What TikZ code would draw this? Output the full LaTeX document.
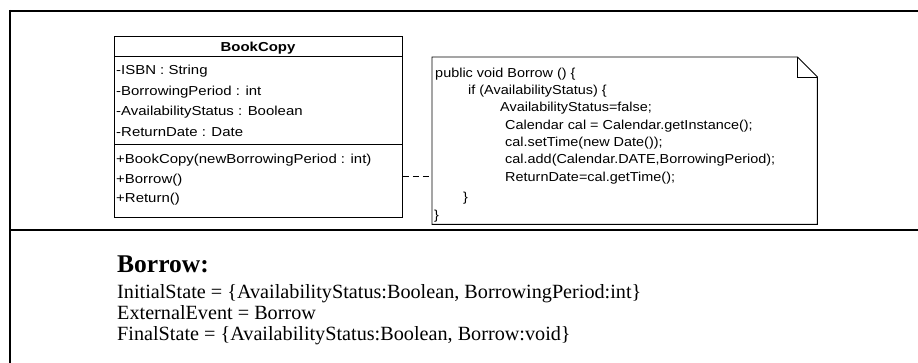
\documentclass[tikz,border=0pt]{standalone}
\usepackage{fontspec}
\setmainfont{Liberation Serif}
\setsansfont{Liberation Sans}

\begin{document}
\begin{tikzpicture}[x=1pt,y=-1pt,
    frame/.style={line width=2pt},
    umlline/.style={line width=0.9pt},
    umltext/.style={font=\sffamily\fontsize{13}{15}\selectfont, inner sep=0pt, anchor=base west, xscale=1.15},
    codetext/.style={font=\sffamily\fontsize{13}{15}\selectfont, inner sep=0pt, anchor=base west, xscale=1.11},
    spectext/.style={font=\fontsize{20.2}{22}\selectfont, inner sep=0pt, anchor=base west}]
  \useasboundingbox (0,0) rectangle (918,363);

  % table frame
  \draw[frame] (9,11) -- (918,11);
  \draw[frame] (10,10) -- (10,363);
  \draw[frame] (9,230) -- (918,230);

  % class BookCopy
  \node[draw, umlline, minimum width=288pt, minimum height=181pt, inner sep=0pt, anchor=north west] (bookcopy) at (114,36) {};
  \draw[umlline] ([yshift=-20]bookcopy.north west) -- ([yshift=-20]bookcopy.north east);
  \draw[umlline] ([yshift=-108]bookcopy.north west) -- ([yshift=-108]bookcopy.north east);
  \node[umltext, font=\sffamily\bfseries\fontsize{13}{15}\selectfont, anchor=base] (classname) at (258,51.7) {BookCopy};
  \foreach \txt [count=\i] in {-ISBN : String, -BorrowingPeriod : int, -AvailabilityStatus : Boolean, -ReturnDate : Date}
    \node[umltext] (attr\i) at (116,54.5+20.5*\i) {\txt};
  \foreach \txt [count=\i] in {+BookCopy(newBorrowingPeriod : int), +Borrow(), +Return()}
    \node[umltext] (meth\i) at (116,144.5+19.5*\i) {\txt};

  % note with the code of Borrow
  \node[minimum width=385pt, minimum height=167pt, inner sep=0pt, anchor=north west] (note) at (432,57) {};
  \draw[umlline] (note.south west) -- (note.north west) -- ([xshift=-20]note.north east)
    -- ([yshift=-20]note.north east) -- (note.south east) -- cycle;
  \draw[umlline] ([xshift=-20]note.north east) |- ([yshift=-20]note.north east);
  \foreach \cx/\cy/\txt [count=\i] in {
      435/77.3/public void Borrow () \{,
      468/94.5/if (AvailabilityStatus) \{,
      500/111.8/AvailabilityStatus=false;,
      505/129.2/Calendar cal = Calendar.getInstance();,
      505/146.6/cal.setTime(new Date());,
      505/164/{cal.add(Calendar.DATE,BorrowingPeriod);},
      505/181.5/ReturnDate=cal.getTime();,
      463/201.5/\},
      434/220/\}}
    \node[codetext] (code\i) at (\cx,\cy) {\txt};

  \coordinate (attach) at (0,176);
  \draw[umlline, dash pattern=on 6pt off 4pt] (bookcopy.east |- attach) -- (note.west |- attach);

  % specification of the operation
  \node[spectext, font=\bfseries\fontsize{25.5}{27}\selectfont] (opname) at (117,272.7) {Borrow:};
  \node[spectext] (initstate) at (117,298.3) {InitialState = \{AvailabilityStatus:Boolean, BorrowingPeriod:int\}};
  \node[spectext] (extevent) at (117,319.5) {ExternalEvent = Borrow};
  \node[spectext] (finalstate) at (117,340.7) {FinalState = \{AvailabilityStatus:Boolean, Borrow:void\}};
\end{tikzpicture}
\end{document}
